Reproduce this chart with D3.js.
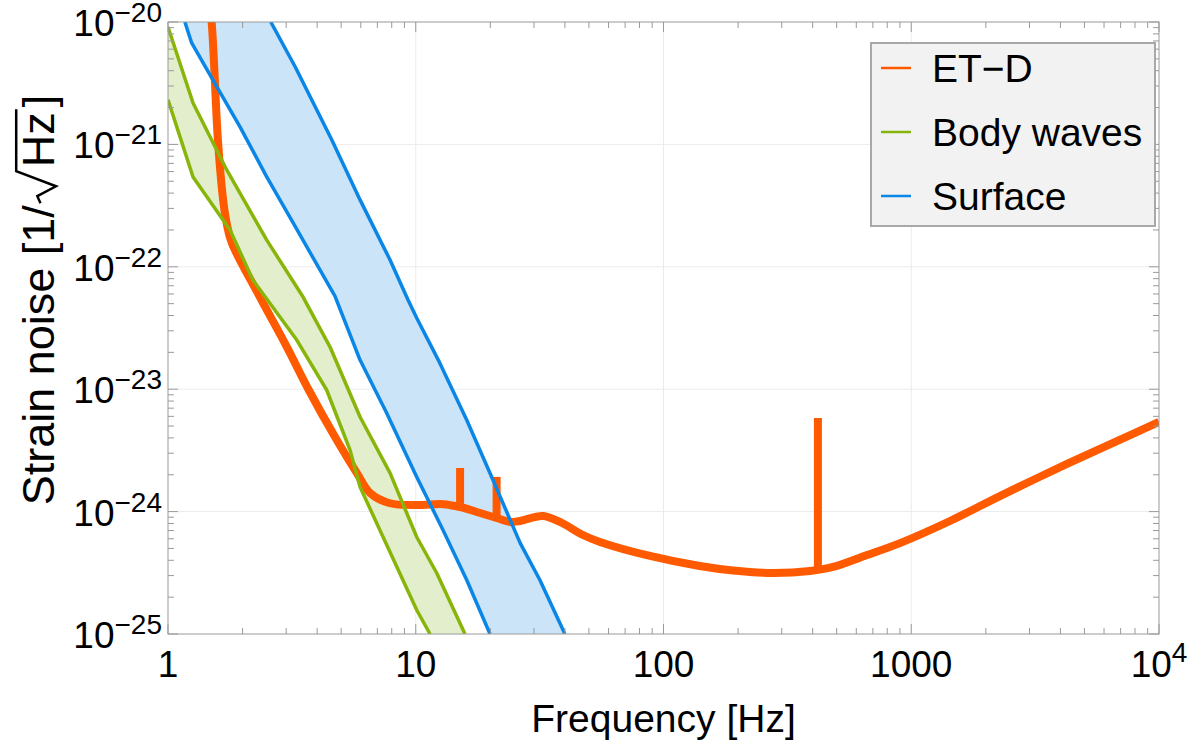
<!DOCTYPE html>
<html lang="en">
<head>
    <title>Strain noise</title>
    <script src="https://d3js.org/d3.v7.min.js"></script>
    <style>
        body { margin: 0; background: #fff; }
        text { font-family: "Liberation Sans", Arial, sans-serif; fill: #000; }
    </style>
</head>
<body>

<script>
    // ET-D sensitivity curve (Hz, 1/sqrt(Hz))
    const etdFreq   = [1.44, 1.50, 1.59, 1.67, 1.73, 1.81, 2.35, 3.02, 3.70, 4.80, 5.78, 6.54, 7.87, 10.1, 12.9, 15.1, 18.2, 21.2, 24.0, 26.3, 32.6, 38.2, 47.3, 55.4, 88.2, 140, 191, 277, 390, 483, 663, 901, 1433, 2279, 4252, 6764, 10000];
    const etdStrain = [2e-20, 1e-20, 1.09e-21, 3.5e-22, 2.2e-22, 1.56e-22, 5.66e-23, 2.21e-23, 9.85e-24, 3.84e-24, 2.07e-24, 1.42e-24, 1.17e-24, 1.13e-24, 1.15e-24, 1.09e-24, 9.74e-25, 8.87e-25, 8.23e-25, 8.38e-25, 9.2e-25, 8.23e-25, 6.44e-25, 5.65e-25, 4.34e-25, 3.59e-25, 3.30e-25, 3.15e-25, 3.27e-25, 3.53e-25, 4.42e-25, 5.53e-25, 8.38e-25, 1.34e-24, 2.45e-24, 3.77e-24, 5.40e-24];
    // narrow lines on the ET-D curve
    const spikeFreq = [15.1, 21.2, 420];
    const spikeBase = [1.09e-24, 8.9e-25, 3.3e-25];
    const spikeTop  = [2.27e-24, 1.92e-24, 5.82e-24];

    // body waves band
    const bodyHiFreq   = [1.0, 1.262, 1.726, 2.50, 3.51, 4.51, 5.96, 7.87, 10.09, 12.15, 15.8];
    const bodyHiStrain = [9.1e-21, 2.18e-21, 6.18e-22, 1.66e-22, 5.66e-23, 2.21e-23, 5.93e-24, 2.07e-24, 6.2e-25, 3.15e-25, 1e-25];
    const bodyLoFreq   = [1.0, 1.262, 1.78, 2.20, 3.31, 4.37, 5.43, 5.96, 7.38, 10.09, 11.42];
    const bodyLoStrain = [2.31e-21, 5.42e-22, 2.0e-22, 7.8e-23, 2.52e-23, 9.85e-24, 3.18e-24, 1.59e-24, 6.2e-25, 1.57e-25, 1e-25];

    // surface band
    const surfHiFreq   = [2.60, 3.26, 4.58, 5.96, 7.87, 9.31, 10.09, 12.5, 16.06, 20.5, 26.4, 31.7, 40.0];
    const surfHiStrain = [1e-20, 4.31e-21, 1.09e-21, 3.52e-22, 1.14e-22, 5.36e-23, 3.82e-23, 1.64e-23, 5.6e-24, 1.81e-24, 5.53e-25, 2.76e-25, 1e-25];
    const surfLoFreq   = [1.17, 1.246, 1.573, 1.953, 2.50, 3.20, 4.72, 5.96, 7.63, 10.09, 12.88, 16.06, 19.94];
    const surfLoStrain = [1e-20, 6.74e-21, 2.96e-21, 1.39e-21, 5.45e-22, 2.28e-22, 5.77e-23, 1.73e-23, 6.4e-24, 1.92e-24, 7.08e-25, 2.76e-25, 1e-25];

    const xTicks = [1, 10, 100, 1000, 10000];
    const xTickLabels = [["1", ""], ["10", ""], ["100", ""], ["1000", ""], ["10", "4"]];
    const yTicks = [1e-20, 1e-21, 1e-22, 1e-23, 1e-24, 1e-25];
    const yTickLabels = ["\u221220", "\u221221", "\u221222", "\u221223", "\u221224", "\u221225"];
    const legendNames = ["ET\u2212D", "Body waves", "Surface"];

    const W = 1200, H = 742;
    const m = {left: 168, top: 22, right: 41, bottom: 108};
    const orange = "#ff5a00", green = "#87b50a", blue = "#0a86e6";

    const svg = d3.select("body").append("svg").attr("width", W).attr("height", H);

    const x = d3.scaleLog().domain([1, 1e4]).range([m.left, W - m.right]);
    const y = d3.scaleLog().domain([1e-25, 1e-20]).range([H - m.bottom, m.top]);

    svg.append("clipPath").attr("id", "clip")
        .append("rect").attr("x", m.left).attr("y", m.top)
        .attr("width", W - m.left - m.right).attr("height", H - m.top - m.bottom);

    // grid
    const grid = svg.append("g").attr("stroke", "#ebebeb").attr("stroke-width", 1);
    grid.selectAll(".gx").data(xTicks.slice(1, -1)).join("line")
        .attr("x1", d => x(d)).attr("x2", d => x(d)).attr("y1", m.top).attr("y2", H - m.bottom);
    grid.selectAll(".gy").data(yTicks.slice(1, -1)).join("line")
        .attr("y1", d => y(d)).attr("y2", d => y(d)).attr("x1", m.left).attr("x2", W - m.right);

    const zip = (fs, ss) => fs.map((f, i) => [f, ss[i]]);
    const plot = svg.append("g").attr("clip-path", "url(#clip)");
    const lin = d3.line().x(d => x(d[0])).y(d => y(d[1]));

    // bands
    const band = (hiF, hiS, loF, loS) => zip(hiF, hiS).concat(zip(loF, loS).reverse());
    plot.append("path").attr("d", lin(band(bodyHiFreq, bodyHiStrain, bodyLoFreq, bodyLoStrain)) + "Z")
        .attr("fill", "#e3eecd");
    plot.append("path").attr("d", lin(band(surfHiFreq, surfHiStrain, surfLoFreq, surfLoStrain)) + "Z")
        .attr("fill", "#cce4f8");

    // ET-D
    const smooth = d3.line().x(d => x(d[0])).y(d => y(d[1])).curve(d3.curveCatmullRom.alpha(0.5));
    plot.append("path").attr("d", smooth(zip(etdFreq, etdStrain)))
        .attr("fill", "none").attr("stroke", orange).attr("stroke-width", 8).attr("stroke-linejoin", "round");
    plot.selectAll(".spike").data(spikeFreq).join("line")
        .attr("x1", d => x(d)).attr("x2", d => x(d))
        .attr("y1", (d, i) => y(spikeBase[i])).attr("y2", (d, i) => y(spikeTop[i]))
        .attr("stroke", orange).attr("stroke-width", 8);

    // band edges
    [[bodyHiFreq, bodyHiStrain, green], [bodyLoFreq, bodyLoStrain, green],
     [surfHiFreq, surfHiStrain, blue], [surfLoFreq, surfLoStrain, blue]].forEach(([f, s, c]) => {
        plot.append("path").attr("d", lin(zip(f, s)))
            .attr("fill", "none").attr("stroke", c).attr("stroke-width", 3.5).attr("stroke-linejoin", "round");
    });

    // frame and ticks
    const frame = svg.append("g").attr("stroke", "#9a9a9a").attr("stroke-width", 1).attr("fill", "none");
    frame.append("rect").attr("x", m.left).attr("y", m.top)
        .attr("width", W - m.left - m.right).attr("height", H - m.top - m.bottom);
    const minorX = [], minorY = [];
    for (let e = 0; e < 4; e++) for (let k = 2; k < 10; k++) minorX.push(k * Math.pow(10, e));
    for (let e = -25; e < -20; e++) for (let k = 2; k < 10; k++) minorY.push(k * Math.pow(10, e));
    const xt = xTicks.map(d => [d, 10]).concat(minorX.map(d => [d, 6]));
    const yt = yTicks.map(d => [d, 10]).concat(minorY.map(d => [d, 6]));
    frame.selectAll(".tb").data(xt).join("line")
        .attr("x1", d => x(d[0])).attr("x2", d => x(d[0]))
        .attr("y1", H - m.bottom).attr("y2", d => H - m.bottom - d[1]);
    frame.selectAll(".tt").data(xt).join("line")
        .attr("x1", d => x(d[0])).attr("x2", d => x(d[0]))
        .attr("y1", m.top).attr("y2", d => m.top + d[1]);
    frame.selectAll(".tl").data(yt).join("line")
        .attr("y1", d => y(d[0])).attr("y2", d => y(d[0]))
        .attr("x1", m.left).attr("x2", d => m.left + d[1]);
    frame.selectAll(".tr").data(yt).join("line")
        .attr("y1", d => y(d[0])).attr("y2", d => y(d[0]))
        .attr("x1", W - m.right).attr("x2", d => W - m.right - d[1]);

    // tick labels
    svg.selectAll(".xl").data(xTicks).join("text")
        .attr("x", d => x(d)).attr("y", H - m.bottom + 43)
        .attr("text-anchor", "middle").style("font-size", "37px")
        .each(function(d, i) {
            const t = d3.select(this);
            t.append("tspan").text(xTickLabels[i][0]);
            if (xTickLabels[i][1]) t.append("tspan").attr("dy", -15).style("font-size", "28px").text(xTickLabels[i][1]);
        });
    svg.selectAll(".yl").data(yTicks).join("text")
        .attr("x", m.left - 6).attr("y", d => y(d) + 14)
        .attr("text-anchor", "end").style("font-size", "37px")
        .each(function(d, i) {
            const t = d3.select(this);
            t.append("tspan").text("10");
            t.append("tspan").attr("dy", -14).style("font-size", "28px").text(yTickLabels[i]);
        });

    // axis titles
    svg.append("text").attr("x", (m.left + W - m.right) / 2).attr("y", 732)
        .attr("text-anchor", "middle").style("font-size", "39px").text("Frequency [Hz]");

    const labelSize = 45;
    const yt0 = svg.append("g").attr("transform", "translate(54,300) rotate(-90)").style("font-size", labelSize + "px");
    const p1 = yt0.append("text").text("Strain noise [1/");
    const w1 = p1.node().getComputedTextLength();
    const rw = 0.8 * labelSize;
    const p2 = yt0.append("text").attr("x", w1 + rw + 2).text("Hz");
    const w2 = p2.node().getComputedTextLength();
    const p3 = yt0.append("text").attr("x", w1 + rw + w2 + 7).text("]");
    const total = w1 + rw + w2 + 7 + p3.node().getComputedTextLength();
    const barY = -0.84 * labelSize;
    yt0.append("path")
        .attr("d", `M${w1 + 2},${-0.3 * labelSize} L${w1 + 0.2 * labelSize},${-0.37 * labelSize} L${w1 + 0.42 * labelSize},2 L${w1 + rw - 2},${barY} L${w1 + rw + w2 + 5},${barY}`)
        .attr("fill", "none").attr("stroke", "#000").attr("stroke-width", 2.5).attr("stroke-linejoin", "miter");
    yt0.selectAll("text, path").attr("transform", `translate(${-total / 2},0)`);

    // legend
    const lg = svg.append("g");
    lg.append("rect").attr("x", 871).attr("y", 43).attr("width", 284).attr("height", 183)
        .attr("fill", "#f2f2f2").attr("stroke", "#a8a8a8").attr("stroke-width", 2);
    const legendColors = [orange, green, blue];
    const rowY = d3.scalePoint().domain(legendNames).range([68, 196]);
    lg.selectAll(".ls").data(legendNames).join("line")
        .attr("x1", 881).attr("x2", 911).attr("y1", d => rowY(d)).attr("y2", d => rowY(d))
        .attr("stroke", (d, i) => legendColors[i]).attr("stroke-width", 2.5);
    lg.selectAll(".lt").data(legendNames).join("text")
        .attr("x", 932).attr("y", d => rowY(d) + 13.5)
        .style("font-size", "39px").text(d => d);
</script>

</body>
</html>
